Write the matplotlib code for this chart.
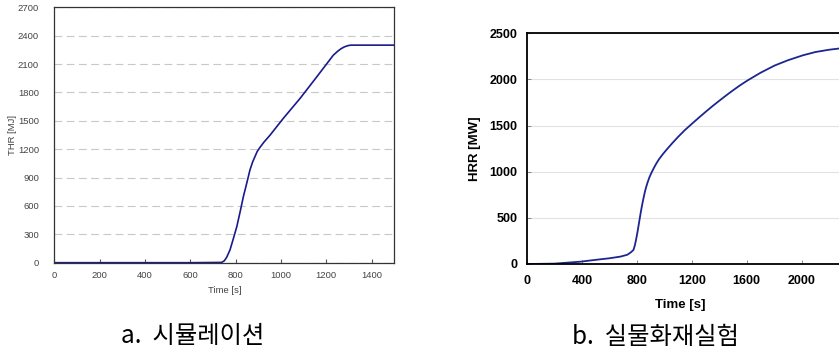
import matplotlib.pyplot as plt

# a. simulation - total heat release
thr_time = [0, 600, 738, 750, 760, 775, 790, 805, 820, 834, 850, 863, 875,
            885, 895, 907, 925, 952, 1010, 1084, 1158, 1231, 1250, 1265,
            1280, 1297, 1310, 1400, 1500]
thr_value = [0, 0, 3, 20, 55, 134, 255, 380, 540, 697, 850, 979, 1065,
             1120, 1175, 1218, 1275, 1349, 1525, 1736, 1965, 2194, 2235, 2262,
             2282, 2296, 2300, 2300, 2300]

# b. real fire test - heat release rate
hrr_time = [0, 200, 388, 500, 600, 680, 730, 755, 775, 785, 795, 805, 815,
            825, 835, 845, 855, 865, 875, 890, 905, 920, 940, 960, 990, 1020,
            1060, 1100, 1150, 1205, 1260, 1300, 1350, 1412, 1460, 1500, 1550,
            1607, 1700, 1802, 1900, 2010, 2100, 2200, 2283, 2400]
hrr_value = [0, 4, 25, 45, 62, 80, 100, 125, 152, 200, 270, 350, 440,
             530, 615, 690, 760, 820, 870, 935, 985, 1030, 1085, 1133, 1192,
             1245, 1313, 1377, 1452, 1525, 1597, 1648, 1710, 1783, 1838, 1882,
             1935, 1990, 2072, 2150, 2208, 2262, 2297, 2322, 2337, 2355]

plt.rcParams['font.family'] = ['Liberation Sans', 'DejaVu Sans']
kr_font = ['Noto Sans CJK KR', 'DejaVu Sans']

W, H = 839, 353
fig = plt.figure(figsize=(W / 100, H / 100), dpi=100)

# left chart
ax1 = fig.add_axes([54.3 / W, 1 - 262.7 / H, 340 / W, 255.4 / H])
ax1.plot(thr_time, thr_value, color='#1a1a8c', lw=1.2)
ax1.set_xlim(0, 1500)
ax1.set_ylim(0, 2700)
ax1.set_xticks(range(0, 1401, 200))
ax1.set_yticks(range(0, 2701, 300))
ax1.yaxis.grid(True, color='#c8c8c8', lw=0.8, linestyle=(0, (7, 4)))
ax1.tick_params(axis='x', direction='in', length=3, width=0.8, color='#555555',
                labelsize=6.8, labelcolor='#444444', pad=6)
ax1.tick_params(axis='y', length=0, labelsize=6.8, labelcolor='#444444', pad=11)
for s in ax1.spines.values():
    s.set_color('#333333')
    s.set_linewidth(0.9)
ax1.text(-0.122, 0.5, 'THR [MJ]', transform=ax1.transAxes, rotation=90,
         ha='center', va='center', fontsize=6.8, color='#444444')
ax1.text(0.5, -0.107, 'Time [s]', transform=ax1.transAxes,
         ha='center', va='center', fontsize=6.8, color='#444444')

# right chart (runs past the right edge of the picture)
ax2 = fig.add_axes([527 / W, 1 - 264 / H, 329.6 / W, 230.7 / H])
ax2.plot(hrr_time, hrr_value, color='#1c2590', lw=1.3)
ax2.set_xlim(0, 2400)
ax2.set_ylim(0, 2500)
ax2.set_xticks(range(0, 2001, 400))
ax2.set_yticks(range(0, 2501, 500))
ax2.yaxis.grid(True, color='#e2e2e2', lw=0.8)
ax2.tick_params(direction='in', length=3, width=0.7, color='#888888',
                labelsize=9)
ax2.tick_params(axis='x', pad=8)
ax2.tick_params(axis='y', pad=7)
for lab in ax2.get_xticklabels() + ax2.get_yticklabels():
    lab.set_fontweight('bold')
for s in ax2.spines.values():
    s.set_color('black')
    s.set_linewidth(1.3)
ax2.text(-0.158, 0.5, 'HRR [MW]', transform=ax2.transAxes, rotation=90,
         ha='center', va='center', fontsize=9.5, fontweight='bold')
ax2.text(0.464, -0.177, 'Time [s]', transform=ax2.transAxes,
         ha='center', va='center', fontsize=9.5, fontweight='bold')

# captions
fig.text(193 / W, 1 - 336 / H, 'a.  시뮬레이션', family=kr_font, fontsize=17.5,
         fontweight='medium', ha='center', va='center')
fig.text(655 / W, 1 - 336.5 / H, 'b.  실물화재실험', family=kr_font, fontsize=17.5,
         fontweight='medium', ha='center', va='center')

fig.savefig('out.png', dpi=100)
